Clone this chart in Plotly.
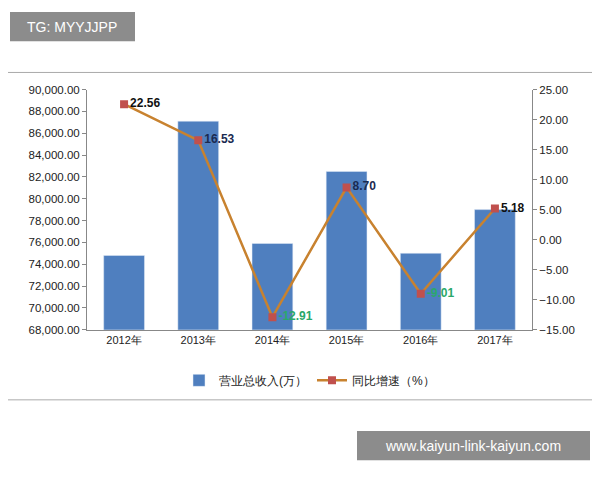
import plotly.graph_objects as go

years = ["2012年", "2013年", "2014年", "2015年", "2016年", "2017年"]
revenue = [74800, 87100, 75900, 82500, 75000, 79000]
growth = [22.56, 16.53, -12.91, 8.70, -9.01, 5.18]
growth_labels = ["<b>22.56</b>", "<b>16.53</b>", "<b>-12.91</b>", "<b>8.70</b>", "<b>-9.01</b>", "<b>5.18</b>"]
label_colors = ["#111111", "#1a2a50", "#2aa86a", "#1a2a50", "#2aa86a", "#111111"]

# page offset compensation (body margin)
OX, OY, W, H = 8, 12, 592, 468
def px(x): return (x - OX) / W
def py(y): return 1 - (y - OY) / H

fig = go.Figure()
fig.add_trace(go.Bar(x=years, y=revenue, name="营业总收入(万）", marker_color="#4F7FBF",
                     width=0.55, yaxis="y"))
fig.add_trace(go.Scatter(x=years, y=growth, name="同比增速（%）", yaxis="y2",
                         mode="lines+markers+text", text=growth_labels, textposition="middle right",
                         textfont=dict(color=label_colors, size=12, family="Liberation Sans"),
                         line=dict(color="#C8822F", width=2.5),
                         marker=dict(symbol="square", size=8, color="#C0504D")))

fig.update_layout(
    width=W, height=H, margin=dict(l=0, r=0, t=0, b=0),
    paper_bgcolor="white", plot_bgcolor="white",
    font=dict(family="Liberation Sans", size=11, color="#222"),
    xaxis=dict(domain=[px(87), px(532)], showline=True, linecolor="#888", ticks="",
               tickfont=dict(size=11), anchor="y"),
    yaxis=dict(range=[68000, 90000], dtick=2000, tickformat=",.2f", showgrid=False,
               showline=True, linecolor="#888", ticks="outside", ticklen=4, tickcolor="#888",
               domain=[py(336), py(89.5)], tickfont=dict(size=11.5)),
    yaxis2=dict(range=[-15, 25], dtick=5, tickformat=".2f", overlaying="y", side="right",
                showgrid=False, showline=True, linecolor="#888", ticks="outside", ticklen=4,
                tickcolor="#888", tickfont=dict(size=11.5)),
    legend=dict(orientation="h", x=(px(87) + px(532)) / 2, xanchor="center", y=py(388), yanchor="middle",
                font=dict(size=12)),
    shapes=[
        dict(type="rect", xref="paper", yref="paper", x0=px(2), x1=px(598), y0=py(408), y1=py(72),
             line=dict(color="#aaa", width=1), layer="below"),
        dict(type="rect", xref="paper", yref="paper", x0=px(10), x1=px(135), y0=py(40), y1=py(10),
             fillcolor="rgba(120,120,120,0.85)", line=dict(width=0), layer="below"),
        dict(type="rect", xref="paper", yref="paper", x0=px(357), x1=px(590), y0=py(470), y1=py(440),
             fillcolor="rgba(120,120,120,0.85)", line=dict(width=0), layer="below"),
    ],
    annotations=[
        dict(text="TG: MYYJJPP", xref="paper", yref="paper", x=px(72), y=py(25), showarrow=False,
             xanchor="center", yanchor="middle", font=dict(color="white", size=14)),
        dict(text="www.kaiyun-link-kaiyun.com", xref="paper", yref="paper", x=px(473), y=py(455),
             showarrow=False, xanchor="center", yanchor="middle", font=dict(color="white", size=14)),
    ],
)
fig.write_html("out.html")
